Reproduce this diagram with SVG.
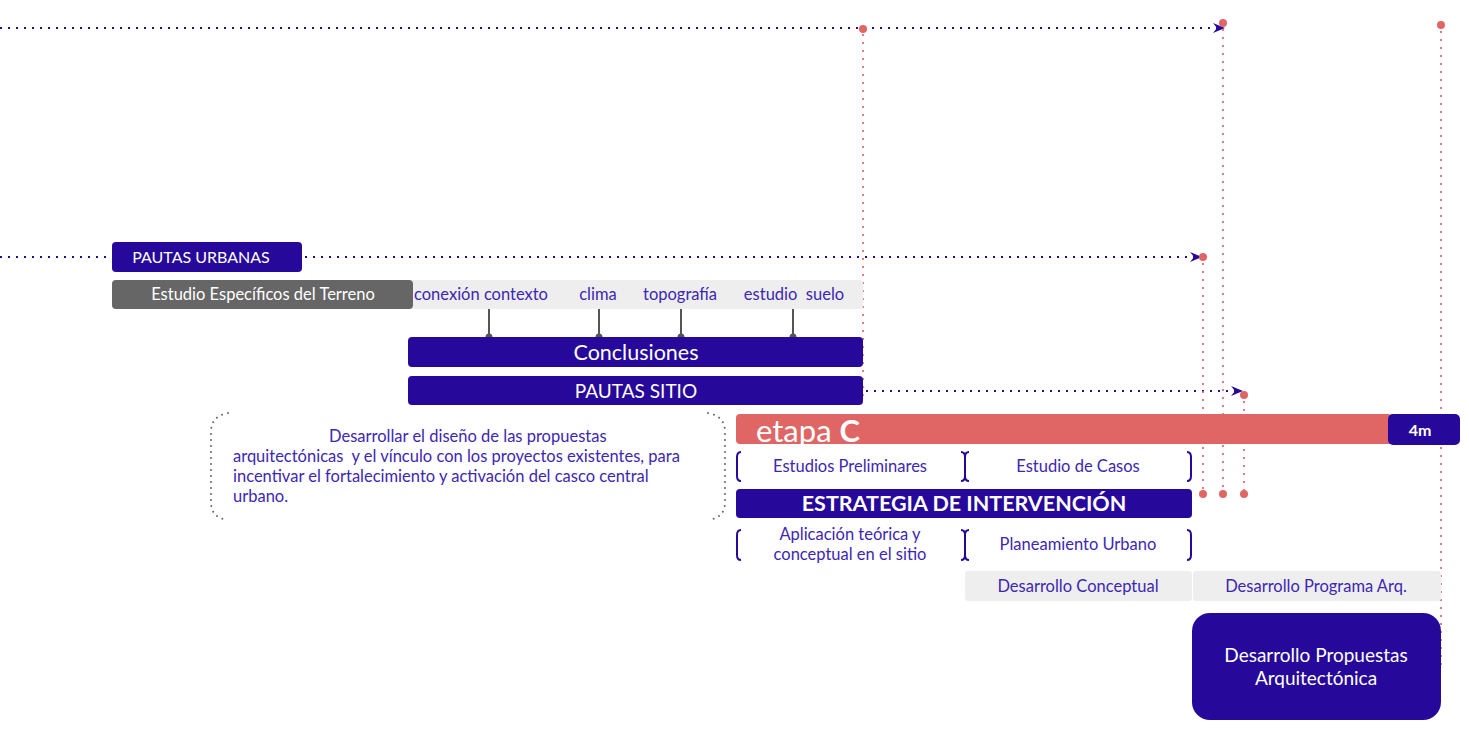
<svg xmlns="http://www.w3.org/2000/svg" width="1469" height="729" viewBox="0 0 1469 729">
<style>
.dk{fill:#26099a}
.gy{fill:#eeeeee}
.wt{fill:#ffffff;font-family:Lato,"Liberation Sans",sans-serif;text-anchor:middle}
.bt{fill:#3d27b3;font-family:Lato,"Liberation Sans",sans-serif;font-size:16.5px;text-anchor:middle}
.pt{fill:#3d27b3;font-family:Lato,"Liberation Sans",sans-serif;font-size:16.5px;text-anchor:start}
.pre{white-space:pre}
.bdot{fill:none;stroke:#26099a;stroke-width:2;stroke-dasharray:2 6}
.rdot{fill:none;stroke:#e06666;stroke-width:2;stroke-dasharray:2 6;opacity:0.85}
.rd{fill:#e06666}
.br{fill:none;stroke:#26099a;stroke-width:2}
.gdot{fill:none;stroke:#666;stroke-width:2;stroke-dasharray:0 6;stroke-linecap:round}
.cn{stroke:#555;stroke-width:2}
</style>
<defs>
<marker id="ah" markerWidth="12" markerHeight="10" refX="11" refY="5" orient="auto" markerUnits="userSpaceOnUse">
<path d="M0,0 L12,5 L0,10 L4,5 Z" fill="#26099a"/>
</marker>
</defs>
<rect width="1469" height="729" fill="#ffffff"/>

<g id="connectors">
<line class="bdot" x1="0" y1="28" x2="1224" y2="28" marker-end="url(#ah)"/>
<line class="bdot" x1="0" y1="257" x2="112" y2="257"/>
<line class="bdot" x1="305" y1="257" x2="1201" y2="257" marker-end="url(#ah)"/>
<line class="bdot" x1="866" y1="391" x2="1242" y2="391" marker-end="url(#ah)"/>
<line class="rdot" x1="863" y1="34" x2="863" y2="396"/>
<line class="rdot" x1="1223" y1="29" x2="1223" y2="494"/>
<line class="rdot" x1="1441" y1="31" x2="1441" y2="668"/>
<line class="rdot" x1="1203" y1="263" x2="1203" y2="494"/>
<line class="rdot" x1="1244" y1="401" x2="1244" y2="494"/>
<circle class="rd" cx="863" cy="29" r="4"/>
<circle class="rd" cx="1223" cy="23" r="4"/>
<circle class="rd" cx="1441" cy="25" r="4"/>
<circle class="rd" cx="1203" cy="257" r="4"/>
<circle class="rd" cx="1244" cy="395" r="4"/>
<circle class="rd" cx="1203" cy="494" r="4"/>
<circle class="rd" cx="1223" cy="494" r="4"/>
<circle class="rd" cx="1244" cy="494" r="4"/>
<line class="cn" x1="489" y1="309" x2="489" y2="337"/>
<line class="cn" x1="599" y1="309" x2="599" y2="337"/>
<line class="cn" x1="681" y1="309" x2="681" y2="337"/>
<line class="cn" x1="793" y1="309" x2="793" y2="337"/>
<circle cx="489" cy="337" r="3.5" fill="#555"/>
<circle cx="599" cy="337" r="3.5" fill="#555"/>
<circle cx="681" cy="337" r="3.5" fill="#555"/>
<circle cx="793" cy="337" r="3.5" fill="#555"/>
</g>

<g id="pautas-urbanas">
<rect class="dk" x="112" y="242" width="190" height="30" rx="4"/>
<text class="wt" x="201" y="263" font-size="16">PAUTAS URBANAS</text>
</g>

<g id="estudio-terreno">
<rect class="gy" x="400" y="280" width="463" height="29" rx="3"/>
<rect x="112" y="280" width="301" height="29" rx="4" fill="#666666"/>
<text class="wt" x="263" y="300" font-size="16.5" fill="#eeeeee">Estudio Específicos del Terreno</text>
<text class="bt" x="481" y="300">conexión contexto</text>
<text class="bt" x="598" y="300">clima</text>
<text class="bt" x="680" y="300">topografía</text>
<text class="bt pre" x="794" y="300">estudio  suelo</text>
</g>

<g id="conclusiones">
<rect class="dk" x="408" y="337" width="455" height="30" rx="4"/>
<text class="wt" x="636" y="360" font-size="21.5">Conclusiones</text>
</g>

<g id="pautas-sitio">
<rect class="dk" x="408" y="376" width="455" height="29" rx="4"/>
<text class="wt" x="636" y="398" font-size="19">PAUTAS SITIO</text>
</g>

<g id="objetivo">
<path class="gdot" d="M228,413 Q211,416 211,432 L211,502 Q211,518 228,520"/>
<path class="gdot" d="M708,413 Q725,416 725,432 L725,502 Q725,518 708,520"/>
<text class="pt" x="329" y="442">Desarrollar el diseño de las propuestas</text>
<text class="pt pre" x="233" y="462">arquitectónicas  y el vínculo con los proyectos existentes, para</text>
<text class="pt" x="233" y="482">incentivar el fortalecimiento y activación del casco central</text>
<text class="pt" x="233" y="502">urbano.</text>
</g>

<g id="etapa-c">
<rect x="736" y="414" width="656" height="30" rx="4" fill="#e06666"/>
<text x="756" y="442" font-family="Lato,'Liberation Sans',sans-serif" font-size="31" fill="#ffffff">etapa <tspan font-weight="bold">C</tspan></text>
</g>

<g id="cuatro-m">
<rect class="dk" x="1388" y="414" width="72" height="31" rx="5"/>
<text class="wt" x="1420" y="436" font-size="16" font-weight="bold">4m</text>
</g>

<g id="fila-1">
<path class="br" d="M741,452 Q737,452 737,457 L737,476 Q737,481 741,481"/>
<path class="br" d="M961,452 Q965,452 965,457 L965,476 Q965,481 961,481 M969,452 Q965,452 965,457 M969,481 Q965,481 965,476"/>
<path class="br" d="M1187,452 Q1191,452 1191,457 L1191,476 Q1191,481 1187,481"/>
<text class="bt" x="850" y="472">Estudios Preliminares</text>
<text class="bt" x="1078" y="472">Estudio de Casos</text>
</g>

<g id="estrategia">
<rect class="dk" x="736" y="489" width="456" height="29" rx="4"/>
<text class="wt" x="964" y="511" font-size="21.5" font-weight="bold">ESTRATEGIA DE INTERVENCIÓN</text>
</g>

<g id="fila-2">
<path class="br" d="M741,530 Q737,530 737,535 L737,555 Q737,560 741,560"/>
<path class="br" d="M961,530 Q965,530 965,535 L965,555 Q965,560 961,560 M969,530 Q965,530 965,535 M969,560 Q965,560 965,555"/>
<path class="br" d="M1187,530 Q1191,530 1191,535 L1191,555 Q1191,560 1187,560"/>
<text class="bt" x="850" y="540">Aplicación teórica y</text>
<text class="bt" x="850" y="560">conceptual en el sitio</text>
<text class="bt" x="1078" y="550">Planeamiento Urbano</text>
</g>

<g id="desarrollo-conceptual">
<rect class="gy" x="965" y="571" width="227" height="30" rx="3"/>
<text class="bt" x="1078" y="592">Desarrollo Conceptual</text>
</g>

<g id="desarrollo-programa">
<rect class="gy" x="1193" y="571" width="248" height="30" rx="3"/>
<text class="bt" x="1316" y="592">Desarrollo Programa Arq.</text>
</g>

<g id="desarrollo-propuestas">
<rect class="dk" x="1192" y="613" width="249" height="107" rx="18"/>
<text class="wt" x="1316" y="662" font-size="19">Desarrollo Propuestas</text>
<text class="wt" x="1316" y="685" font-size="19">Arquitectónica</text>
</g>
</svg>
